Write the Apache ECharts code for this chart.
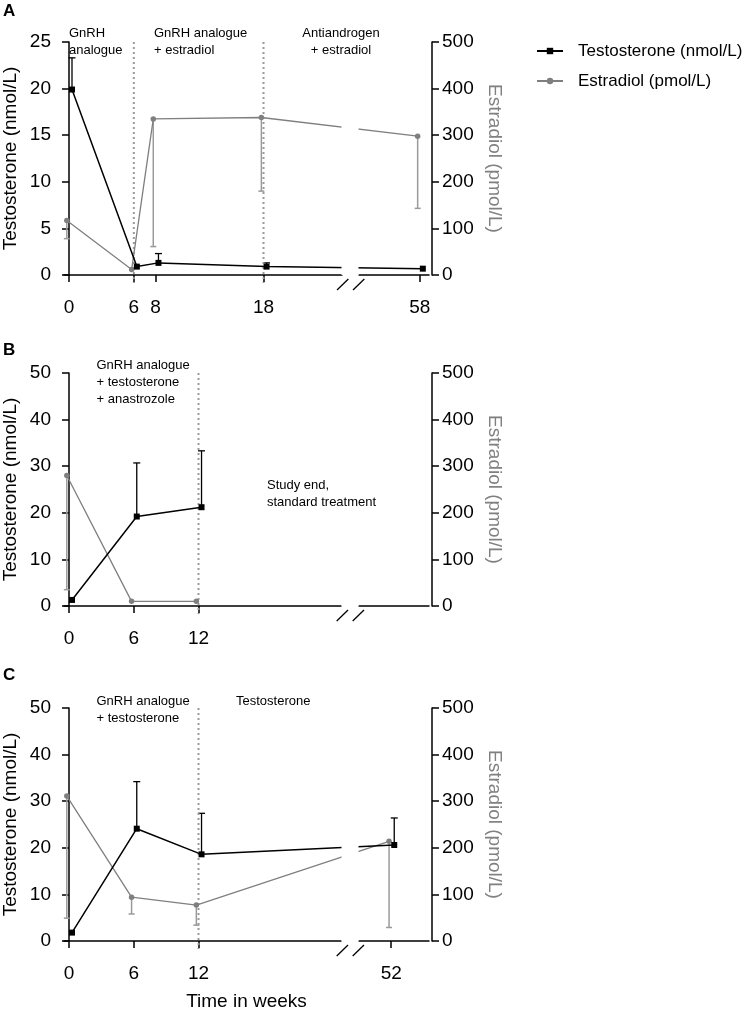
<!DOCTYPE html>
<html><head><meta charset="utf-8">
<script src="https://cdn.jsdelivr.net/npm/echarts@6/dist/echarts.min.js"></script>
<style>html,body{margin:0;padding:0;background:#fff}#c{width:750px;height:1009px}</style>
</head><body><div id="c"></div>
<script>
// ---------- data ----------
const seriesNames = ['Testosterone (nmol/L)', 'Estradiol (pmol/L)'];

const weeksA = [0, 6, 8, 18, 58];
const testoA = [19.9, 0.9, 1.3, 0.9, 0.68];
const testoErrA = [3.4, 0, 1.0, 0.4, 0];
const estraA = [117, 12, 335, 338, 298];
const estraErrA = [39, 0, 274, 158, 155];
const ticksA = [0, 6, 8, 18, 58];
const phaseA = [6, 18];

const weeksB = [0, 6, 12];
const testoB = [1.3, 19.2, 21.2];
const testoErrB = [0, 11.5, 12.1];
const estraB = [280, 10, 10];
const estraErrB = [245, 0, 0];
const ticksB = [0, 6, 12];
const phaseB = [12];

const weeksC = [0, 6, 12, 52];
const testoC = [1.8, 24.1, 18.6, 20.6];
const testoErrC = [0, 10.1, 8.8, 5.8];
const estraC = [311, 94, 77, 214];
const estraErrC = [262, 36, 43, 185];
const ticksC = [0, 6, 12, 52];
const phaseC = [12];

const testoMax = [25, 50, 50];
const testoInterval = [5, 10, 10];
const estraMax = 500;
const estraInterval = 100;
const xRange = [[-0.46, 58.85], [-0.46, 55.5], [-0.46, 55.5]];
const xBreaks = [[25.2, 52.34], [25.2, 48.95], [25.2, 48.95]];
const panelLabels = ['A', 'B', 'C'];
const notes = [
  [{t: 'GnRH\nanalogue', x: 69, y: 25, a: 'left'},
   {t: 'GnRH analogue\n+ estradiol', x: 154, y: 25, a: 'left'},
   {t: 'Antiandrogen\n+ estradiol', x: 341, y: 25, a: 'center'}],
  [{t: 'GnRH analogue\n+ testosterone\n+ anastrozole', x: 96.5, y: 357.5, a: 'left'},
   {t: 'Study end,\nstandard treatment', x: 267, y: 477.5, a: 'left'}],
  [{t: 'GnRH analogue\n+ testosterone', x: 96.5, y: 693.5, a: 'left'},
   {t: 'Testosterone', x: 236, y: 693.5, a: 'left'}]
];

// ---------- styling ----------
const FONT = '"Liberation Sans", Arial, Helvetica, sans-serif';
const T_COLOR = '#000000';
const E_COLOR = '#7f7f7f';
const E_ERR_COLOR = '#9a9a9a';
const DODGE_T = 0.28, DODGE_E = -0.2;
const gridTops = [42, 373, 708];
const GRID_LEFT = 64, GRID_W = 365, GRID_H = 233;
const X_OFFSET = 8;

const panels = [
  {w: weeksA, t: testoA, te: testoErrA, e: estraA, ee: estraErrA, ticks: ticksA, phase: phaseA},
  {w: weeksB, t: testoB, te: testoErrB, e: estraB, ee: estraErrB, ticks: ticksB, phase: phaseB},
  {w: weeksC, t: testoC, te: testoErrC, e: estraC, ee: estraErrC, ticks: ticksC, phase: phaseC}
];

function errRender(dir, color, width, cap) {
  return function (params, api) {
    const x = api.value(0), y = api.value(1), e = api.value(2);
    if (!e) return {type: 'group', children: []};
    const p0 = api.coord([x, y]);
    const p1 = api.coord([x, y + dir * e]);
    return {type: 'group', children: [
      {type: 'line', shape: {x1: p0[0], y1: p0[1], x2: p1[0], y2: p1[1]}, style: {stroke: color, lineWidth: width}},
      {type: 'line', shape: {x1: p1[0] - cap / 2, y1: p1[1], x2: p1[0] + cap / 2, y2: p1[1]}, style: {stroke: color, lineWidth: width}}
    ]};
  };
}

const grids = [], xAxes = [], yAxes = [], series = [];
panels.forEach((p, i) => {
  grids.push({left: GRID_LEFT, width: GRID_W, top: gridTops[i], height: GRID_H, outerBoundsMode: 'none', containLabel: false});
  xAxes.push({
    type: 'value', gridIndex: i, min: xRange[i][0], max: xRange[i][1], offset: X_OFFSET,
    breaks: [{start: xBreaks[i][0], end: xBreaks[i][1], gap: 1.6}],
    breakArea: {show: true, itemStyle: {color: '#fff', borderColor: '#fff', borderWidth: 0, opacity: 1},
      zigzagAmplitude: 0, zigzagZ: 100, expandOnClick: false},
    axisLine: {lineStyle: {color: '#000', width: 1.5}},
    axisTick: {customValues: p.ticks, length: 7, lineStyle: {color: '#000', width: 1.5}},
    axisLabel: {customValues: p.ticks, fontSize: 19, color: '#000', margin: 15, fontFamily: FONT},
    splitLine: {show: false},
    name: i === 2 ? 'Time in weeks' : '', nameLocation: 'middle', nameGap: 43,
    nameTextStyle: {fontSize: 19, color: '#000', fontFamily: FONT}
  });
  yAxes.push({
    type: 'value', gridIndex: i, position: 'left', offset: 3, min: 0, max: testoMax[i], interval: testoInterval[i],
    axisLine: {show: true, lineStyle: {color: '#000', width: 1.5}},
    axisTick: {show: true, length: 7, lineStyle: {color: '#000', width: 1.5}},
    axisLabel: {fontSize: 19, color: '#000', margin: 10, fontFamily: FONT},
    splitLine: {show: false},
    name: 'Testosterone (nmol/L)', nameLocation: 'middle', nameGap: 41, nameRotate: 90,
    nameTextStyle: {fontSize: 19, color: '#000', fontFamily: FONT}
  });
  yAxes.push({
    type: 'value', gridIndex: i, position: 'right', offset: 3, min: 0, max: estraMax, interval: estraInterval,
    axisLine: {show: true, lineStyle: {color: '#000', width: 1.5}},
    axisTick: {show: true, length: 7, lineStyle: {color: '#000', width: 1.5}},
    axisLabel: {fontSize: 19, color: '#000', margin: 10, fontFamily: FONT},
    splitLine: {show: false},
    name: 'Estradiol (pmol/L)', nameLocation: 'middle', nameGap: 53, nameRotate: -90,
    nameTextStyle: {fontSize: 19, color: '#808080', fontFamily: FONT}
  });
  const eData = p.w.map((w, k) => [w + DODGE_E, p.e[k], p.ee[k]]);
  const tData = p.w.map((w, k) => [w + DODGE_T, p.t[k], p.te[k]]);
  series.push({
    type: 'custom', name: seriesNames[1] + ' err', xAxisIndex: i, yAxisIndex: 2 * i + 1, z: 1,
    renderItem: errRender(-1, E_ERR_COLOR, 1.5, 6), encode: {x: 0, y: 1}, data: eData, silent: true
  });
  series.push({
    type: 'custom', name: seriesNames[0] + ' err', xAxisIndex: i, yAxisIndex: 2 * i, z: 1,
    renderItem: errRender(1, T_COLOR, 1.3, 7), encode: {x: 0, y: 1}, data: tData, silent: true
  });
  series.push({
    type: 'line', name: seriesNames[1], xAxisIndex: i, yAxisIndex: 2 * i + 1,
    data: eData.map(d => [d[0], d[1]]), symbol: 'circle', symbolSize: 5.5, showAllSymbol: true,
    lineStyle: {color: E_COLOR, width: 1.3}, itemStyle: {color: E_COLOR}, z: 2
  });
  series.push({
    type: 'line', name: seriesNames[0], xAxisIndex: i, yAxisIndex: 2 * i,
    data: tData.map(d => [d[0], d[1]]), symbol: 'rect', symbolSize: 6, showAllSymbol: true,
    lineStyle: {color: T_COLOR, width: 1.5}, itemStyle: {color: T_COLOR}, z: 3
  });
});

const chart = echarts.init(document.getElementById('c'), null, {renderer: 'canvas'});
chart.setOption({
  animation: false,
  backgroundColor: '#fff',
  textStyle: {fontFamily: FONT},
  legend: {
    data: seriesNames, orient: 'vertical', left: 531, top: 36, itemWidth: 26, itemHeight: 8, itemGap: 10,
    textStyle: {fontSize: 17, color: '#000', fontFamily: FONT, lineHeight: 20, padding: [0, 0, 0, 10]}
  },
  grid: grids, xAxis: xAxes, yAxis: yAxes, series: series
});

// ---------- overlay graphics (through the axes' own scales) ----------
const g = [];
panels.forEach((p, i) => {
  const yTop = chart.convertToPixel({yAxisIndex: 2 * i}, testoMax[i]);
  const axisY = chart.convertToPixel({yAxisIndex: 2 * i}, 0) + X_OFFSET;
  p.phase.forEach(v => {
    const x = chart.convertToPixel({xAxisIndex: i}, v);
    g.push({type: 'line', z: 1, silent: true, shape: {x1: x, y1: yTop, x2: x, y2: axisY},
      style: {stroke: '#9a9a9a', lineWidth: 2, lineDash: [2, 3]}});
  });
  const xs = chart.convertToPixel({xAxisIndex: i}, xBreaks[i][0]);
  const xe = chart.convertToPixel({xAxisIndex: i}, xBreaks[i][1]);
  g.push({type: 'rect', z: 150, silent: true, shape: {x: xs + 2.7, y: axisY - 2, width: (xe + 1.4) - (xs + 2.7), height: 4},
    style: {fill: '#fff'}});
  [xs + 2.7, xe + 1.4].forEach(c => {
    g.push({type: 'line', z: 160, silent: true, shape: {x1: c - 7, y1: axisY + 7, x2: c + 4.3, y2: axisY - 4},
      style: {stroke: '#000', lineWidth: 1.3}});
  });
  notes[i].forEach(n => {
    g.push({type: 'text', z: 200, silent: true, x: n.x, y: n.y,
      style: {text: n.t, fontSize: 13, lineHeight: 16.7, fill: '#000', fontFamily: FONT, align: n.a, verticalAlign: 'top'}});
  });
  g.push({type: 'text', z: 200, silent: true, x: 3, y: [11, 350, 675][i],
    style: {text: panelLabels[i], fontSize: 17, fontWeight: 'bold', fill: '#000', fontFamily: FONT, verticalAlign: 'middle'}});
});
chart.setOption({graphic: g});
</script>
</body></html>
